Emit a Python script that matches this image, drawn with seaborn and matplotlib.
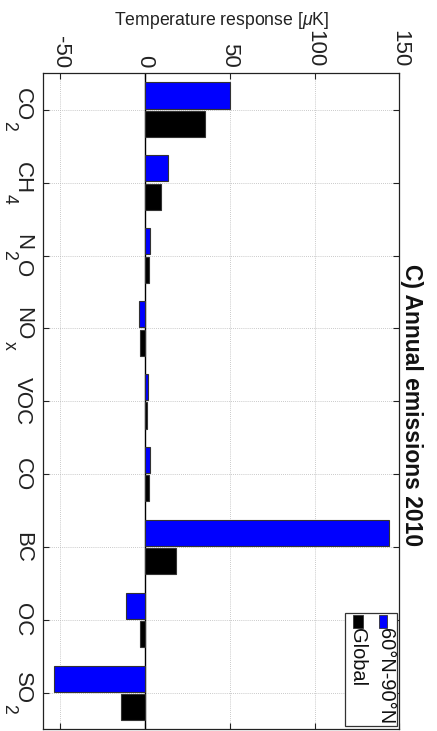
import matplotlib
matplotlib.use("Agg")
import matplotlib.pyplot as plt
from matplotlib.patches import Rectangle
from matplotlib.transforms import IdentityTransform
from matplotlib.font_manager import FontProperties
import pandas as pd
import seaborn as sns

# Emitted species and the temperature response they cause [μK]
species = ["CO2", "CH4", "N2O", "NOx", "VOC", "CO", "BC", "OC", "SO2"]
# Label pieces per species: (text, is_subscript)
species_labels = [
    [("CO", False), ("2", True)],
    [("CH", False), ("4", True)],
    [("N", False), ("2", True), ("O", False)],
    [("NO", False), ("x", True)],
    [("VOC", False)],
    [("CO", False)],
    [("BC", False)],
    [("OC", False)],
    [("SO", False), ("2", True)],
]
arctic = [50.0, 13.6, 3.2, -3.5, 1.8, 2.8, 143.9, -11.0, -53.9]
global_mean = [35.4, 9.5, 2.4, -3.1, 1.0, 2.2, 18.3, -2.9, -14.3]
regions = ["60°N-90°N", "Global"]
region_colors = ["#0000ff", "#000000"]
xticks = [-50, 0, 50, 100, 150]

df = pd.DataFrame({
    "species": species * 2,
    "response": arctic + global_mean,
    "region": [regions[0]] * len(species) + [regions[1]] * len(species),
})

sns.set_style("white")
plt.rcParams["font.family"] = ["Liberation Sans", "DejaVu Sans"]
plt.rcParams["mathtext.fontset"] = "custom"
plt.rcParams["mathtext.rm"] = "Liberation Sans"
plt.rcParams["mathtext.it"] = "Liberation Sans:italic"
plt.rcParams["axes.unicode_minus"] = False

W, H = 437, 731
fig = plt.figure(figsize=(W / 100, H / 100), dpi=100)


def fx(px):
    return px / W


def fy(py):
    return 1 - py / H


left, right, top, bottom = 43.3, 399.3, 73.3, 729.3
ax = fig.add_axes([fx(left), fy(bottom), fx(right - left), (bottom - top) / H])

ax.axvline(0, color="black", lw=1.0, zorder=1.5)

sns.barplot(
    data=df, x="response", y="species", hue="region",
    hue_order=regions, palette=dict(zip(regions, region_colors)),
    orient="h", width=0.78, gap=0.08, saturation=1,
    edgecolor="#333333", linewidth=0.8, errorbar=None,
    legend=False, ax=ax, zorder=2,
)

ax.set_xlim(-60, 150)
ax.set_ylim(len(species) - 0.5, -0.5)
ax.set_xticks(xticks)
ax.set_xticklabels([str(t) for t in xticks])
ax.set_xlabel("")
ax.set_ylabel("")

ax.tick_params(axis="both", direction="in", length=4, width=0.8,
               top=True, bottom=True, left=True, right=True,
               labeltop=True, labelbottom=False, labelleft=False,
               labelsize=16, colors="#222222")
ax.tick_params(axis="x", pad=4)
for lab in ax.get_xticklabels():
    lab.set_rotation(270)
    lab.set_ha("center")
    lab.set_va("bottom")

ax.grid(True, axis="both", color="#b8b8b8", lw=0.6, ls=(0, (1, 1.5)))
ax.set_axisbelow(True)
for s in ax.spines.values():
    s.set_color("#222222")
    s.set_linewidth(0.9)

# Category labels with lowered subscripts, written top to bottom
fig.canvas.draw()
renderer = fig.canvas.get_renderer()
main_prop = FontProperties(family="Liberation Sans", size=16)
sub_prop = FontProperties(family="Liberation Sans", size=12.7)
ax_x0 = ax.get_window_extent().x0
main_base = ax_x0 - 26.6
sub_base = ax_x0 - 39.0
for i, pieces in enumerate(species_labels):
    y_tick = ax.transData.transform((0, i))[1]
    widths = []
    for txt, is_sub in pieces:
        prop = sub_prop if is_sub else main_prop
        w, _, _ = renderer.get_text_width_height_descent(txt, prop, ismath=False)
        widths.append(w)
    y = y_tick + sum(widths) / 2
    for (txt, is_sub), w in zip(pieces, widths):
        fig.text(sub_base if is_sub else main_base, y, txt,
                 transform=IdentityTransform(), rotation=270,
                 rotation_mode="anchor", ha="left", va="baseline",
                 fontproperties=sub_prop if is_sub else main_prop,
                 color="#222222")
        y -= w

# Axis title above the tick labels
fig.text(fx(221.3), fy(20.5), "Temperature response [$\\mu$K]",
         ha="center", va="center", fontsize=12.7, color="#222222")

# Panel title on the right side
fig.text(fx(412), fy(405), "C) Annual emissions 2010", rotation=270,
         ha="center", va="center", fontsize=16.5, fontweight="bold",
         color="#111111")

# Legend box
fig.patches.append(Rectangle((fx(345), fy(725.7)), fx(396.7 - 345), (725.7 - 613) / H,
                             transform=fig.transFigure, facecolor="white",
                             edgecolor="#333333", lw=0.9, zorder=5))
entries = [(379, 387, 385.5, regions[0], region_colors[0]),
           (353, 363, 357.5, regions[1], region_colors[1])]
for x0, x1, xt, name, col in entries:
    fig.patches.append(Rectangle((fx(x0), fy(628)), fx(x1 - x0), (628 - 615) / H,
                                 transform=fig.transFigure, facecolor=col,
                                 edgecolor="#333333", lw=0.6, zorder=6))
    fig.text(fx(xt), fy(628), name, rotation=270, ha="center", va="top",
             fontsize=14.4, color="#111111", zorder=7)

fig.savefig("out.png", dpi=100)
